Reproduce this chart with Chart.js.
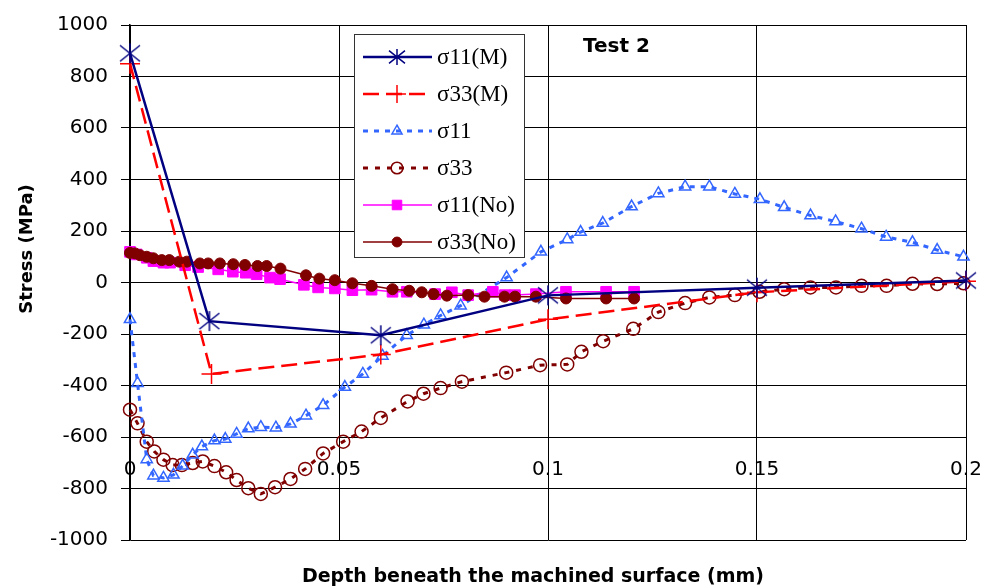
<!DOCTYPE html>
<html>
<head>
<meta charset="utf-8">
<script src="https://cdn.jsdelivr.net/npm/chart.js@4/dist/chart.umd.min.js"></script>
<style>
  html, body { margin: 0; padding: 0; background: #fff; }
</style>
</head>
<body>
<canvas id="myChart" width="999" height="588"></canvas>
<script>
// sigma11 / sigma33 from the model (M)
const s11M_x = [0, 0.019, 0.06, 0.1, 0.15, 0.2];
const s11M_y = [890, -150, -205, -50, -20, 8];
const s33M_x = [0, 0.0195, 0.06, 0.1, 0.15, 0.2];
const s33M_y = [850, -355, -280, -143, -38, 5];

// measured sigma11 / sigma33
const s11_x = [0, 0.0018, 0.004, 0.0056, 0.008, 0.0104, 0.0126, 0.015, 0.0172, 0.0202, 0.0228,
  0.0255, 0.0283, 0.0313, 0.0349, 0.0384, 0.0421, 0.0462, 0.0514, 0.0557, 0.0604, 0.0662,
  0.0703, 0.0743, 0.0791, 0.0901, 0.0983, 0.1046, 0.1078, 0.1131, 0.12, 0.1264, 0.1328,
  0.1386, 0.1447, 0.1507, 0.1565, 0.1628, 0.1688, 0.175, 0.1809, 0.1872, 0.1931, 0.1994];
const s11_y = [-143, -391, -687, -750, -759, -747, -712, -669, -637, -614, -608,
  -588, -567, -562, -564, -549, -517, -477, -406, -355, -285, -205,
  -164, -128, -90, 19, 119, 167, 196, 231, 295, 346, 372,
  372, 344, 323, 292, 260, 237, 209, 177, 156, 126, 100];
const s33_x = [0, 0.0018, 0.004, 0.0058, 0.008, 0.0102, 0.0124, 0.015, 0.0174, 0.0202, 0.023,
  0.0255, 0.0283, 0.0313, 0.0347, 0.0384, 0.0419, 0.0462, 0.051, 0.0554, 0.06, 0.0664,
  0.0702, 0.0743, 0.0794, 0.09, 0.0981, 0.1046, 0.108, 0.1132, 0.1204, 0.1264, 0.1328,
  0.1386, 0.1447, 0.1506, 0.1565, 0.1628, 0.1689, 0.175, 0.181, 0.1872, 0.1931, 0.1994];
const s33_y = [-494, -547, -618, -656, -688, -709, -709, -701, -695, -713, -737,
  -767, -799, -821, -795, -763, -724, -664, -618, -579, -526, -462,
  -432, -410, -385, -350, -321, -318, -269, -228, -180, -115, -80,
  -58, -49, -36, -26, -19, -19, -13, -13, -5, -6, -3];

// no machining-induced stress (No)
const s11No_x = [0, 0.0016, 0.004, 0.0056, 0.008, 0.0096, 0.0132, 0.0163, 0.0211, 0.0246, 0.0277,
  0.0303, 0.0335, 0.0359, 0.0416, 0.045, 0.049, 0.0532, 0.0578, 0.0628, 0.0662, 0.073,
  0.077, 0.0809, 0.0868, 0.0897, 0.0921, 0.0971, 0.1043, 0.1139, 0.1206];
const s11No_y = [119, 109, 96, 83, 77, 77, 67, 60, 51, 42, 38,
  32, 19, 13, -9, -19, -23, -30, -28, -36, -36, -45,
  -38, -49, -36, -49, -49, -45, -36, -36, -36];
const s33No_x = [0, 0.0012, 0.0024, 0.004, 0.0056, 0.0076, 0.0094, 0.0118, 0.0136, 0.0167, 0.0187,
  0.0215, 0.0247, 0.0275, 0.0305, 0.0327, 0.036, 0.0421, 0.0453, 0.049, 0.0532, 0.0578,
  0.0628, 0.0668, 0.0698, 0.0726, 0.0758, 0.0809, 0.0848, 0.0896, 0.0921, 0.0971, 0.1043,
  0.1139, 0.1206];
const s33No_y = [115, 113, 106, 100, 94, 87, 87, 81, 81, 74, 74,
  74, 71, 68, 64, 64, 54, 28, 15, 9, -3, -13,
  -26, -32, -38, -45, -51, -49, -55, -55, -55, -55, -62,
  -62, -62];

const seriesLabels = ["σ11(M)", "σ33(M)", "σ11", "σ33", "σ11(No)", "σ33(No)"];
const chartLabel = "Test 2";
const xTitle = "Depth beneath the machined surface (mm)";
const yTitle = "Stress (MPa)";

function pts(xs, ys) {
  return xs.map((x, i) => ({ x: x, y: ys[i] }));
}

// asterisk marker like the Excel one (X plus a vertical bar)
function makeAsterisk(size, color, lw) {
  const c = document.createElement("canvas");
  c.width = size;
  c.height = size;
  const g = c.getContext("2d");
  g.strokeStyle = color;
  g.lineWidth = lw;
  const m = size / 2, r = size / 2 - 1;
  g.beginPath();
  g.moveTo(m, m - r); g.lineTo(m, m + r);
  g.moveTo(m - r, m - r * 0.8); g.lineTo(m + r, m + r * 0.8);
  g.moveTo(m - r, m + r * 0.8); g.lineTo(m + r, m - r * 0.8);
  g.stroke();
  return c;
}
const star = makeAsterisk(22, "#000080", 1.5);
const starSmall = makeAsterisk(18, "#000080", 1.5);

const tickFont = { family: "DejaVu Sans", size: 20 };

// legend, texts and titles drawn on top
const overlay = {
  id: "overlay",
  afterDraw(chart) {
    const ctx = chart.ctx;
    ctx.save();
    const bx = 354, by = 34, bw = 170, bh = 223;
    ctx.fillStyle = "#fff";
    ctx.fillRect(bx, by, bw, bh);
    ctx.strokeStyle = "#333";
    ctx.lineWidth = 1;
    ctx.strokeRect(bx + 0.5, by + 0.5, bw, bh);
    chart.data.datasets.forEach((ds, i) => {
      const cy = by + 23 + i * 37;
      ctx.strokeStyle = ds.borderColor;
      ctx.lineWidth = ds.borderWidth;
      ctx.setLineDash(ds.borderDash || []);
      ctx.beginPath();
      ctx.moveTo(363, cy);
      ctx.lineTo(432, cy);
      ctx.stroke();
      ctx.setLineDash([]);
      if (ds.pointStyle === star) {
        ctx.drawImage(starSmall, 397 - 9, cy - 9);
      } else {
        ctx.fillStyle = ds.pointBackgroundColor;
        ctx.strokeStyle = ds.pointBorderColor;
        ctx.lineWidth = ds.pointBorderWidth;
        Chart.helpers.drawPoint(ctx, {
          pointStyle: ds.pointStyle,
          radius: ds.pointRadius * 0.9,
          rotation: 0,
          borderWidth: ds.pointBorderWidth
        }, 397, cy);
      }
      ctx.fillStyle = "#000";
      ctx.font = "23px 'Liberation Serif'";
      ctx.textAlign = "left";
      ctx.textBaseline = "middle";
      ctx.fillText(ds.label, 437, cy + 1);
    });

    ctx.fillStyle = "#000";
    ctx.font = "bold 20px 'DejaVu Sans'";
    ctx.textAlign = "left";
    ctx.textBaseline = "middle";
    ctx.fillText(chartLabel, 583, 47);

    ctx.font = "bold 19px 'DejaVu Sans'";
    ctx.textAlign = "center";
    ctx.fillText(xTitle, 533, 577);

    ctx.translate(27, 249);
    ctx.rotate(-Math.PI / 2);
    ctx.font = "bold 18px 'DejaVu Sans'";
    ctx.fillText(yTitle, 0, 0);
    ctx.restore();
  }
};

new Chart(document.getElementById("myChart"), {
  type: "scatter",
  data: {
    datasets: [
      {
        label: seriesLabels[0],
        data: pts(s11M_x, s11M_y),
        showLine: true,
        borderColor: "#000080",
        borderWidth: 2.5,
        pointStyle: star,
        pointRadius: 10,
        pointBackgroundColor: "#000080",
        pointBorderColor: "#000080",
        pointBorderWidth: 1.5,
        order: 0,
        clip: false
      },
      {
        label: seriesLabels[1],
        data: pts(s33M_x, s33M_y),
        showLine: true,
        borderColor: "#ff0000",
        borderWidth: 2.5,
        borderDash: [16, 7],
        pointStyle: "cross",
        pointRadius: 10,
        pointBackgroundColor: "#ff0000",
        pointBorderColor: "#ff0000",
        pointBorderWidth: 1.5,
        order: 1,
        clip: false
      },
      {
        label: seriesLabels[2],
        data: pts(s11_x, s11_y),
        showLine: true,
        borderColor: "#3366ff",
        borderWidth: 3,
        borderDash: [5, 6],
        pointStyle: "triangle",
        pointRadius: 6.5,
        pointBackgroundColor: "rgba(255,255,255,0)",
        pointBorderColor: "#3366ff",
        pointBorderWidth: 1.5,
        order: 4,
        clip: false
      },
      {
        label: seriesLabels[3],
        data: pts(s33_x, s33_y),
        showLine: true,
        borderColor: "#800000",
        borderWidth: 3,
        borderDash: [5, 7],
        pointStyle: "circle",
        pointRadius: 6.5,
        pointBackgroundColor: "rgba(255,255,255,0)",
        pointBorderColor: "#800000",
        pointBorderWidth: 1.5,
        order: 5,
        clip: false
      },
      {
        label: seriesLabels[4],
        data: pts(s11No_x, s11No_y),
        showLine: true,
        borderColor: "#ff00ff",
        borderWidth: 1.5,
        pointStyle: "rect",
        pointRadius: 7.5,
        pointBackgroundColor: "#ff00ff",
        pointBorderColor: "#ff00ff",
        pointBorderWidth: 1,
        order: 3,
        clip: false
      },
      {
        label: seriesLabels[5],
        data: pts(s33No_x, s33No_y),
        showLine: true,
        borderColor: "#800000",
        borderWidth: 1.5,
        pointStyle: "circle",
        pointRadius: 5.5,
        pointBackgroundColor: "#800000",
        pointBorderColor: "#800000",
        pointBorderWidth: 1,
        order: 2,
        clip: false
      }
    ]
  },
  options: {
    responsive: false,
    animation: false,
    layout: { padding: { left: 0, right: 33, top: 20, bottom: 48 } },
    plugins: {
      legend: { display: false },
      tooltip: { enabled: false }
    },
    scales: {
      x: {
        type: "linear",
        min: 0,
        max: 0.2,
        position: { y: -680 },
        ticks: {
          stepSize: 0.05, color: "#000", font: tickFont, padding: 0, maxRotation: 0,
          callback: (v) => String(parseFloat(Number(v).toFixed(3)))
        },
        grid: { color: "#000", lineWidth: 1, drawTicks: false },
        border: { display: false }
      },
      y: {
        min: -1000,
        max: 1000,
        ticks: { stepSize: 200, color: "#000", font: tickFont, padding: 13, callback: (v) => String(v) },
        grid: { color: "#000", lineWidth: 1, tickLength: 9 },
        border: { color: "#000", width: 1.5 },
        afterFit: (s) => { s.width = 130; }
      }
    }
  },
  plugins: [overlay]
});
</script>
</body>
</html>
